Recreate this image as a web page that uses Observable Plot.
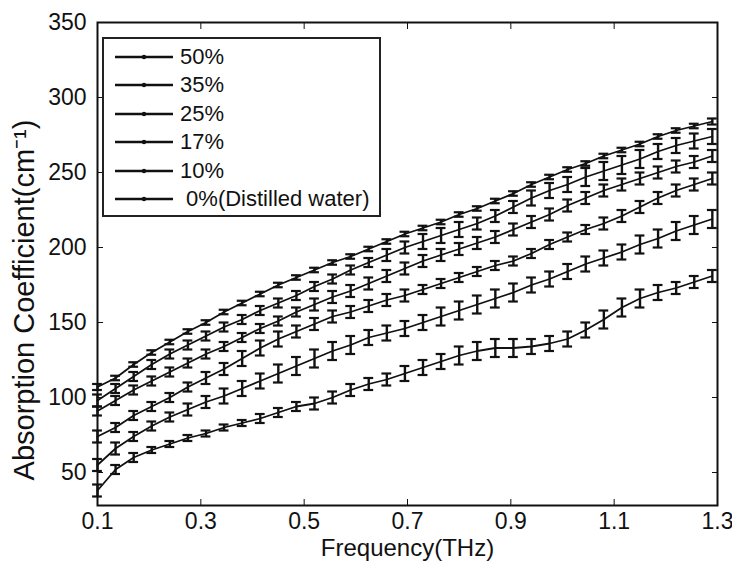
<!DOCTYPE html>
<html>
<head>
<meta charset="utf-8">
<script src="https://cdn.jsdelivr.net/npm/d3@7"></script>
<script src="https://cdn.jsdelivr.net/npm/@observablehq/plot@0.6"></script>
<style>
  html, body { margin: 0; padding: 0; background: white; }
  #wrap { position: relative; width: 732px; height: 561px; overflow: hidden; font-family: "Liberation Sans", Arial, sans-serif; }
  #legend { position: absolute; left: 102px; top: 37px; width: 279px; height: 180px; border: 2px solid #222; background: white; box-sizing: border-box; }
  .row { position: absolute; left: 11px; height: 26px; display: flex; align-items: center; font-size: 22px; color: #111; white-space: pre; }
  .row svg { margin-right: 7px; }
</style>
</head>
<body>
<div id="wrap"></div>
<script>
// Frequencies (THz)
const freqs = [0.1, 0.135, 0.17, 0.205, 0.24, 0.275, 0.31, 0.345, 0.38, 0.415, 0.45, 0.485, 0.52, 0.555, 0.59, 0.625, 0.66, 0.695, 0.73, 0.765, 0.8, 0.835, 0.87, 0.905, 0.94, 0.975, 1.01, 1.045, 1.08, 1.115, 1.15, 1.185, 1.22, 1.255, 1.29];

// Legend labels
const seriesNames = ["50%", "35%", "25%", "17%", "10%", " 0%(Distilled water)"];

// Axis titles
const xTitle = "Frequency(THz)";
const yTitle = "Absorption Coefficient(cm⁻¹)";

// Absorption coefficient (cm^-1), one array per concentration
const water0 = [107,113,122,130,137,144,150,157,163,169,175,180,185,190,194,199,204,209,213,217,222,226,231,236,242,247,252,256,261,265,269,274,278,281,284];
const c10 = [98,106,114,122,129,135,141,147,152,158,163,168,174,179,185,190,195,200,204,208,212,216,221,227,233,238,242,247,251,255,259,264,268,271,274];
const c17 = [91,98,105,111,117,123,129,134,140,146,151,157,162,167,171,176,181,186,191,195,199,203,207,212,217,222,228,233,238,242,246,250,254,257,261];
const c25 = [74,80,88,94,100,107,113,119,126,133,139,144,149,154,157,161,165,168,172,176,180,184,188,191,196,202,207,212,216,221,227,233,238,242,246];
const c35 = [55,66,74,81,87,92,97,101,106,111,116,121,126,131,135,140,143,146,150,154,158,162,166,170,175,179,184,189,193,197,202,206,211,215,219];
const c50 = [38,52,60,65,69,73,76,80,83,86,90,94,96,100,105,109,112,116,120,124,128,131,133,133,134,136,139,145,152,160,166,170,173,177,181];

// Error bar half-widths (cm^-1)
const err0 = [2,1.5,1.5,1.5,1.5,1.5,1.5,1.5,1.5,1.5,1.5,1.5,1.5,1.5,1.5,1.5,1.5,1.5,1.5,1.5,1.5,1.5,1.5,1.5,1.5,1.5,1.5,1.5,1.5,1.5,1.5,1.5,1.5,1.5,2];
const err10 = [4,3,3,3,3,3,3,3,3,3,3,3,3,3,3,3,4,4,5,5,5,4,4,4,5,5,5,6,6,6,6,5,5,5,5];
const err17 = [3,3,3,3,3,3,3,3,3,3,3,3,4,4,4,4,4,4,4,4,4,4,4,4,4,4,4,4,4,4,4,4,4,4,4];
const err25 = [4,3,3,3,3,3,4,4,5,5,5,4,4,4,4,4,4,4,3,3,3,3,3,3,3,3,3,3,4,4,4,4,4,4,4];
const err35 = [4,4,3,3,3,4,4,5,5,5,6,6,6,6,6,5,5,5,5,6,6,6,6,6,5,5,5,5,5,5,6,6,6,6,6];
const err50 = [4,3,3,2,2,2,2,2,2,3,3,3,4,4,4,4,4,5,5,5,6,6,6,6,5,5,5,5,6,6,6,5,4,4,4];

const xTicks = [0.1, 0.3, 0.5, 0.7, 0.9, 1.1, 1.3];
const yTicks = [50, 100, 150, 200, 250, 300, 350];

const seriesVals = [c50, c35, c25, c17, c10, water0];
const seriesErrs = [err50, err35, err25, err17, err10, err0];

const data = [];
seriesVals.forEach((vals, s) => {
  vals.forEach((v, i) => data.push({series: seriesNames[s], f: freqs[i], v, e: seriesErrs[s][i]}));
});

const capHalf = 0.0095;
const chart = Plot.plot({
  width: 732,
  height: 561,
  marginLeft: 97,
  marginRight: 15,
  marginTop: 22,
  marginBottom: 56,
  style: {fontFamily: "Liberation Sans, Arial, sans-serif", fontSize: "23px", background: "white", color: "#111", overflow: "visible"},
  x: {domain: [0.1, 1.3]},
  y: {domain: [28, 350]},
  marks: [
    Plot.axisX({anchor: "bottom", ticks: xTicks, tickFormat: d3.format(".1f"), tickSize: -6, tickPadding: 13, stroke: "#111", fontSize: 23, label: null}),
    Plot.axisX({anchor: "top", ticks: xTicks, tickFormat: () => "", tickSize: -6, stroke: "#111", label: null}),
    Plot.axisY({anchor: "left", ticks: yTicks, tickSize: -6, tickPadding: 17, stroke: "#111", fontSize: 23, label: null}),
    Plot.axisY({anchor: "right", ticks: yTicks, tickFormat: () => "", tickSize: -6, stroke: "#111", label: null}),
    Plot.text([xTitle], {frameAnchor: "bottom", text: d => d, dy: 43, fontSize: 24, lineAnchor: "middle", fill: "#111"}),
    Plot.text([yTitle], {frameAnchor: "left", text: d => d, dx: -73, dy: 36, rotate: -90, fontSize: 29, lineAnchor: "middle", textAnchor: "middle", fill: "#111"}),
    Plot.line(data, {x: "f", y: "v", z: "series", stroke: "#111", strokeWidth: 1.8}),
    Plot.ruleX(data, {x: "f", y1: d => d.v - d.e, y2: d => d.v + d.e, stroke: "#111", strokeWidth: 2.4}),
    Plot.ruleY(data, {x1: d => d.f - capHalf, x2: d => d.f + capHalf, y: d => d.v + d.e, stroke: "#111", strokeWidth: 2.2}),
    Plot.ruleY(data, {x1: d => d.f - capHalf, x2: d => d.f + capHalf, y: d => d.v - d.e, stroke: "#111", strokeWidth: 2.2}),
    Plot.frame({stroke: "#111", strokeWidth: 2})
  ]
});

const wrap = document.getElementById("wrap");
wrap.appendChild(chart);

// Legend
const legend = document.createElement("div");
legend.id = "legend";
seriesNames.forEach((name, i) => {
  const row = document.createElement("div");
  row.className = "row";
  row.style.top = (5 + i * 28.4) + "px";
  row.innerHTML = `<svg width="58" height="10"><line x1="0" y1="5" x2="58" y2="5" stroke="#111" stroke-width="2.6"/><circle cx="29" cy="5" r="2.2" fill="#111"/></svg><span>${name}</span>`;
  legend.appendChild(row);
});
wrap.appendChild(legend);
</script>
</body>
</html>
